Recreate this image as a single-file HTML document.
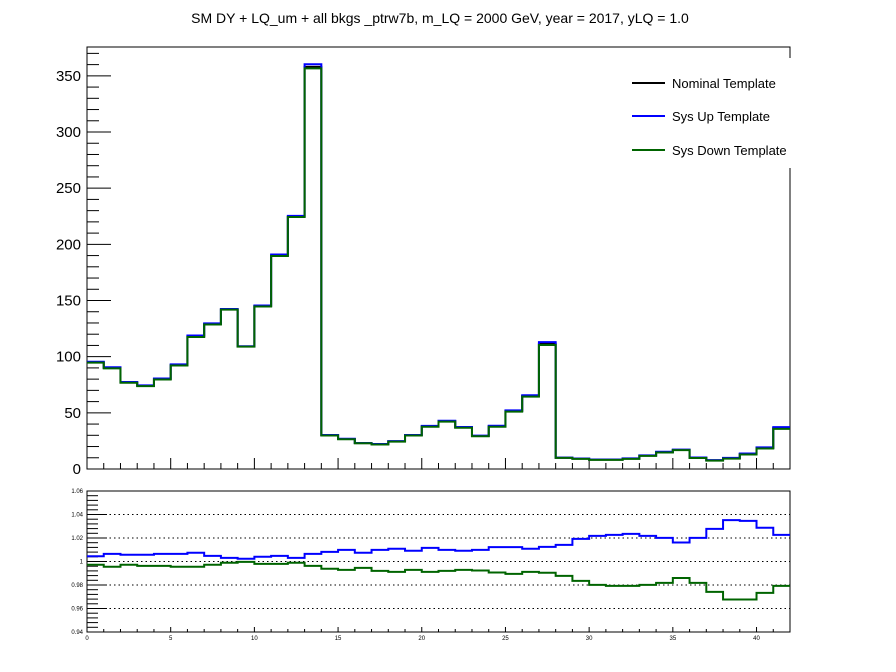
<!DOCTYPE html>
<html><head><meta charset="utf-8"><style>
body{margin:0;background:#fff;}
svg{display:block;font-family:"Liberation Sans",sans-serif;}
</style></head><body>
<svg id="c" width="896" height="672" viewBox="0 0 896 672">
<text x="440" y="23" font-size="14" text-anchor="middle">SM DY + LQ_um + all bkgs  _ptrw7b, m_LQ = 2000 GeV, year = 2017, yLQ = 1.0</text>
<g id="topPanel"></g>
<g id="botPanel"></g>
<g id="leg">
<rect x="600" y="58" width="198" height="110" fill="#fff"/>
<g><line x1="632" y1="83" x2="665" y2="83" stroke="#000" stroke-width="2"/><text x="672" y="88" font-size="13">Nominal Template</text></g>
<g><line x1="632" y1="116" x2="665" y2="116" stroke="#0000ff" stroke-width="2"/><text x="672" y="121" font-size="13">Sys Up Template</text></g>
<g><line x1="632" y1="150" x2="665" y2="150" stroke="#006400" stroke-width="2"/><text x="672" y="155" font-size="13">Sys Down Template</text></g>
</g>
</svg>
<script>
const nominal=[95,90,77,74,80,92.5,118,129,142,109,145,190,224.6,358,30,26.7,23,22,24.6,30,38,42.5,37,29.4,38,51.6,65,111.5,10,9.2,8.3,8.3,9.2,11.9,15,17,10,7.7,9.6,13.3,18.7,36.5];
const ratioUp=[1.0045,1.0065,1.0057,1.0057,1.0065,1.0065,1.0074,1.0048,1.0031,1.0023,1.004,1.0048,1.0031,1.0065,1.0082,1.0099,1.0074,1.0099,1.0108,1.0091,1.0116,1.0099,1.0091,1.0099,1.0122,1.0122,1.0108,1.0125,1.0142,1.0193,1.0218,1.0227,1.0235,1.0218,1.0201,1.0162,1.0201,1.0278,1.0352,1.0346,1.0287,1.0227];
const ratioDown=[0.9972,0.9955,0.9972,0.9963,0.9963,0.9955,0.9955,0.9972,0.9989,0.9997,0.998,0.998,0.9989,0.9963,0.9938,0.9929,0.9946,0.992,0.9912,0.9929,0.9912,0.992,0.9929,0.9923,0.9906,0.9895,0.9912,0.9904,0.9878,0.9835,0.9801,0.9793,0.9793,0.9801,0.9818,0.986,0.9818,0.9742,0.9677,0.9677,0.9733,0.9793];
const yTopTicks=[0,50,100,150,200,250,300,350];
const yBotTicks=[0.94,0.96,0.98,1,1.02,1.04,1.06];
const yBotLabels=["0.94","0.96","0.98","1","1.02","1.04","1.06"];
const xTicks=[0,5,10,15,20,25,30,35,40];

const NS="http://www.w3.org/2000/svg";
const X0=87,X1=790,NB=42;
const sx=v=>X0+(X1-X0)*v/NB;
const TY0=469,TY1=47,TMAX=(469-47)/1.1233;
const sy=v=>TY0-(TY0-TY1)*v/TMAX;
const BY0=632,BY1=491;
const by=v=>BY0-(BY0-BY1)*(v-0.94)/0.12;
function mk(p,t,a){const e=document.createElementNS(NS,t);for(const k in a)e.setAttribute(k,a[k]);p.appendChild(e);return e;}
const topG=document.getElementById('topPanel'),botG=document.getElementById('botPanel');
function hist(g,vals,f,col,name){let d="";vals.forEach((v,i)=>{const y=f(v);d+=(i?"L":"M")+sx(i)+","+y+"H"+sx(i+1);});
 const p=mk(g,'path',{d:d,fill:'none',stroke:col,'stroke-width':2});
 
 }
let fr=mk(topG,'rect',{x:X0,y:TY1,width:X1-X0,height:TY0-TY1,fill:'none',stroke:'#000','stroke-width':1});


for(let v=0;v<=370;v+=10){const y=sy(v);const maj=v%50===0;mk(topG,'line',{x1:X0,y1:y,x2:X0+(maj?24:12),y2:y,stroke:'#000'});}
yTopTicks.forEach(v=>{const t=mk(topG,'text',{x:X0-6,y:sy(v)+5,'font-size':15,'text-anchor':'end'});t.textContent=v;
 
 });
for(let i=0;i<=NB;i++){mk(topG,'line',{x1:sx(i),y1:TY0,x2:sx(i),y2:TY0-(i%5===0?11:6),stroke:'#000'});}
hist(topG,nominal,sy,'#000','nominal-hist');
hist(topG,nominal.map((v,i)=>v*ratioUp[i]),sy,'#0000ff','sys-up-hist');
hist(topG,nominal.map((v,i)=>v*ratioDown[i]),sy,'#006400','sys-down-hist');
yBotTicks.slice(1,-1).forEach(v=>{const l=mk(botG,'line',{x1:X0,y1:by(v),x2:X1,y2:by(v),stroke:'#000','stroke-dasharray':'1.5,3'});
 
 });
let fb=mk(botG,'rect',{x:X0,y:BY1,width:X1-X0,height:BY0-BY1,fill:'none',stroke:'#000'});


for(let k=0;k<=30;k++){const v=0.94+k*0.004;const y=by(v);mk(botG,'line',{x1:X0,y1:y,x2:X0+(k%5===0?20:11),y2:y,stroke:'#000'});}
yBotTicks.forEach((v,i)=>{const t=mk(botG,'text',{x:X0-4,y:by(v)+2,'font-size':6,'text-anchor':'end'});t.textContent=yBotLabels[i];
 
 });
for(let i=0;i<=NB;i++){mk(botG,'line',{x1:sx(i),y1:BY0,x2:sx(i),y2:BY0-(i%5===0?5:3),stroke:'#000'});}
xTicks.forEach(v=>{const t=mk(botG,'text',{x:sx(v),y:BY0+8,'font-size':6,'text-anchor':'middle'});t.textContent=v;
 
 });
hist(botG,ratioUp,by,'#0000ff','ratio-up');
hist(botG,ratioDown,by,'#006400','ratio-down');
document.getElementById('c').appendChild(document.getElementById('leg'));
</script>
</body></html>
